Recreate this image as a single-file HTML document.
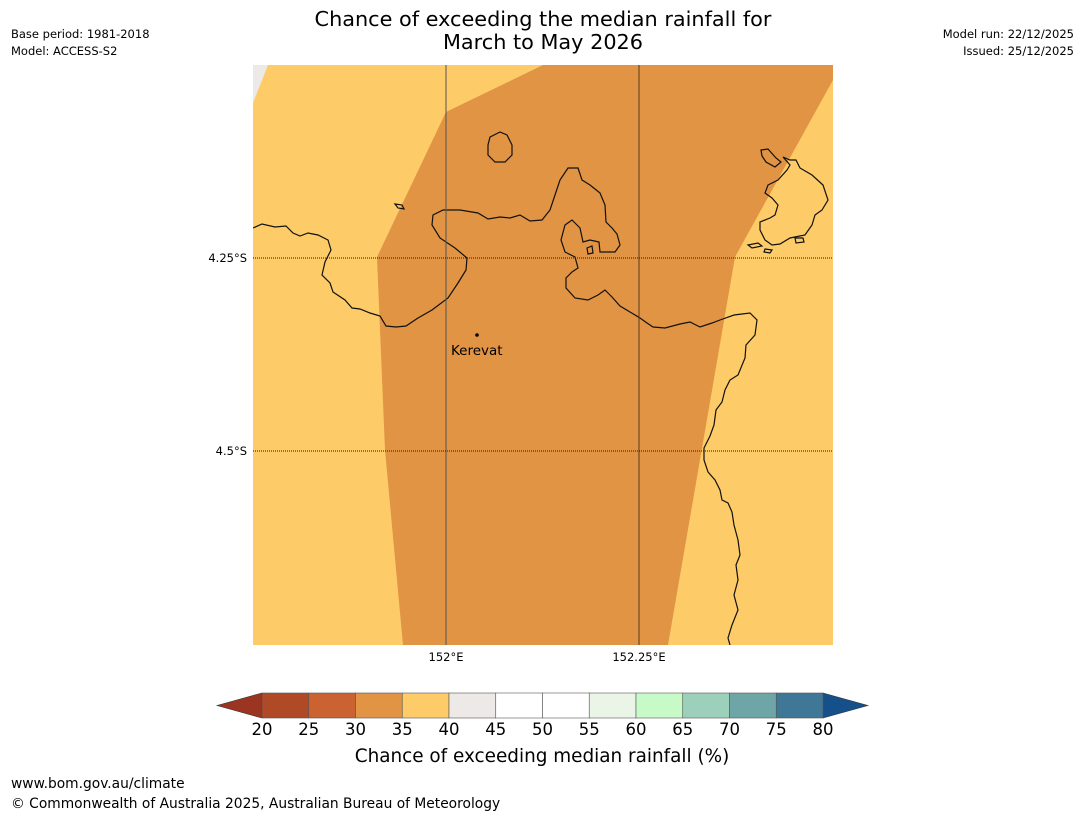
<!DOCTYPE html>
<html><head><meta charset="utf-8"><style>
body{margin:0;background:#fff;font-family:"DejaVu Sans","Liberation Sans",sans-serif;}
svg{display:block}
</style></head><body>
<svg width="1085" height="816" viewBox="0 0 1085 816">
<rect width="1085" height="816" fill="#fff"/>
<text x="543" y="26" font-size="20.8" text-anchor="middle">Chance of exceeding the median rainfall for</text>
<text x="543" y="49" font-size="20.8" text-anchor="middle">March to May 2026</text>
<text x="11" y="38" font-size="11.5">Base period: 1981-2018</text>
<text x="11" y="55" font-size="11.5">Model: ACCESS-S2</text>
<text x="1074" y="38" font-size="11.5" text-anchor="end">Model run: 22/12/2025</text>
<text x="1074" y="55" font-size="11.5" text-anchor="end">Issued: 25/12/2025</text>

<g>
<clipPath id="mc"><rect x="253" y="65" width="580" height="580"/></clipPath>
<g clip-path="url(#mc)">
<rect x="253" y="65" width="580" height="580" fill="#fdcb67"/>
<polygon points="253,65 268,65 253,103" fill="#ece9e6"/>
<polygon points="543,65 833,65 833,80 735,257 668,645 403,645 385,450 377,257 446,112" fill="#e09444"/>
<g fill="none" stroke="#111" stroke-width="1.2">
<path d="M253,228 L262,224 L275,227 L286,226 L293,233 L300,236 L308,233 L318,235 L328,240 L331,250 L325,262 L322,275 L330,283 L333,292 L345,300 L352,308 L360,309 L370,313 L380,316 L386,326 L396,327 L406,326 L418,318 L432,310 L448,298 L458,283 L466,270 L467,258 L455,248 L440,238 L432,225 L433,215 L443,210 L460,210 L478,213 L488,219 L500,217 L510,218 L520,215 L530,221 L542,220 L550,210 L555,195 L560,180 L568,168 L578,168 L582,180 L590,185 L600,193 L605,205 L606,222 L612,228 L617,234 L620,245 L615,252 L600,252 L599,242 L590,240 L583,242 L580,228 L572,220 L565,225 L561,240 L565,252 L575,257 L578,268 L572,272 L566,278 L566,288 L575,298 L588,300 L598,295 L605,290 L612,297 L620,306 L630,312 L640,318 L647,323 L653,327 L665,328 L680,324 L690,322 L700,327 L712,323 L720,320 L734,315 L750,313 L757,320 L755,335 L746,345 L745,358 L738,375 L730,380 L725,390 L722,402 L716,410 L714,425 L710,436 L704,448 L704,460 L708,472 L715,480 L720,490 L722,500 L728,503 L732,512 L734,525 L738,540 L740,555 L736,565 L738,580 L734,595 L738,610 L732,625 L728,638 L730,645"/>
<path d="M490,137 L500,132 L507,135 L512,145 L512,155 L505,162 L495,162 L488,155 L488,145 Z"/>
<path d="M395,204 L402,205 L404,209 L398,208 Z"/>
<path d="M587,248 L592,246 L593,253 L588,254 Z"/>
<path d="M761,150 L768,149 L776,158 L781,162 L775,167 L766,162 L762,156 Z"/>
<path d="M783,157 L790,160 L796,160 L800,168 L812,175 L823,185 L828,200 L822,210 L815,215 L812,225 L805,235 L790,238 L780,244 L772,245 L765,240 L760,230 L760,222 L770,218 L775,215 L778,205 L772,198 L765,193 L768,185 L778,180 L787,170 L790,165 Z"/>
<path d="M748,245 L758,243 L762,246 L752,248 Z"/>
<path d="M765,249 L772,250 L770,253 L764,252 Z"/>
<path d="M795,238 L803,238 L804,242 L796,243 Z"/>
</g>
<line x1="446" y1="65" x2="446" y2="645" stroke="#555" stroke-width="1"/>
<line x1="639" y1="65" x2="639" y2="645" stroke="#5a3a1a" stroke-width="1"/>
<line x1="253" y1="258" x2="833" y2="258" stroke="#222" stroke-width="1" stroke-dasharray="1,1"/>
<line x1="253" y1="451" x2="833" y2="451" stroke="#222" stroke-width="1" stroke-dasharray="1,1"/>
</g>
<circle cx="477" cy="335" r="1.8" fill="#000"/>
<text x="451" y="355" font-size="13.5">Kerevat</text>
</g>
<text x="247" y="262" font-size="11.5" text-anchor="end">4.25°S</text>
<text x="247" y="455" font-size="11.5" text-anchor="end">4.5°S</text>
<text x="446" y="661" font-size="11.5" text-anchor="middle">152°E</text>
<text x="639" y="661" font-size="11.5" text-anchor="middle">152.25°E</text>

<g id="cbar"></g>
<text x="542" y="762" font-size="18.4" text-anchor="middle">Chance of exceeding median rainfall (%)</text>
<text x="11" y="788" font-size="13.8">www.bom.gov.au/climate</text>
<text x="11" y="808" font-size="13.8">© Commonwealth of Australia 2025, Australian Bureau of Meteorology</text>
</svg>
<script>
const tickLabels=[20,25,30,35,40,45,50,55,60,65,70,75,80];
const levelColors=["#b04a26","#cb6231","#e09444","#fdcb67","#ece9e6","#ffffff","#ffffff","#eaf5e8","#c8fac8","#9dd0ba","#6ea6a8","#3f7797"];
const underColor="#9b3522", overColor="#15508a";
const NS="http://www.w3.org/2000/svg";
const g=document.getElementById('cbar');
const x0=262,x1=823,yT=693,yB=718;
const vmin=tickLabels[0],vmax=tickLabels[tickLabels.length-1];
function xs(v){return x0+(v-vmin)/(vmax-vmin)*(x1-x0);}
function mk(t,a){const e=document.createElementNS(NS,t);for(const k in a)e.setAttribute(k,a[k]);g.appendChild(e);return e;}
const lt=mk('polygon',{points:`${x0},${yT} ${x0},${yB} 217,${(yT+yB)/2}`,fill:underColor,stroke:'#333','stroke-width':0.6});


const rt=mk('polygon',{points:`${x1},${yT} ${x1},${yB} 868,${(yT+yB)/2}`,fill:overColor,stroke:'#333','stroke-width':0.6});


levelColors.forEach((c,i)=>{
 const a=xs(tickLabels[i]),b=xs(tickLabels[i+1]);
 const r=mk('rect',{x:a,y:yT,width:b-a,height:yB-yT,fill:c,stroke:'#555','stroke-width':0.6});
 
 
});
tickLabels.forEach(v=>{
 const t=mk('text',{x:xs(v),y:735,'font-size':16.5,'text-anchor':'middle'});
 t.textContent=v;
 
 
});
</script>
</body></html>
